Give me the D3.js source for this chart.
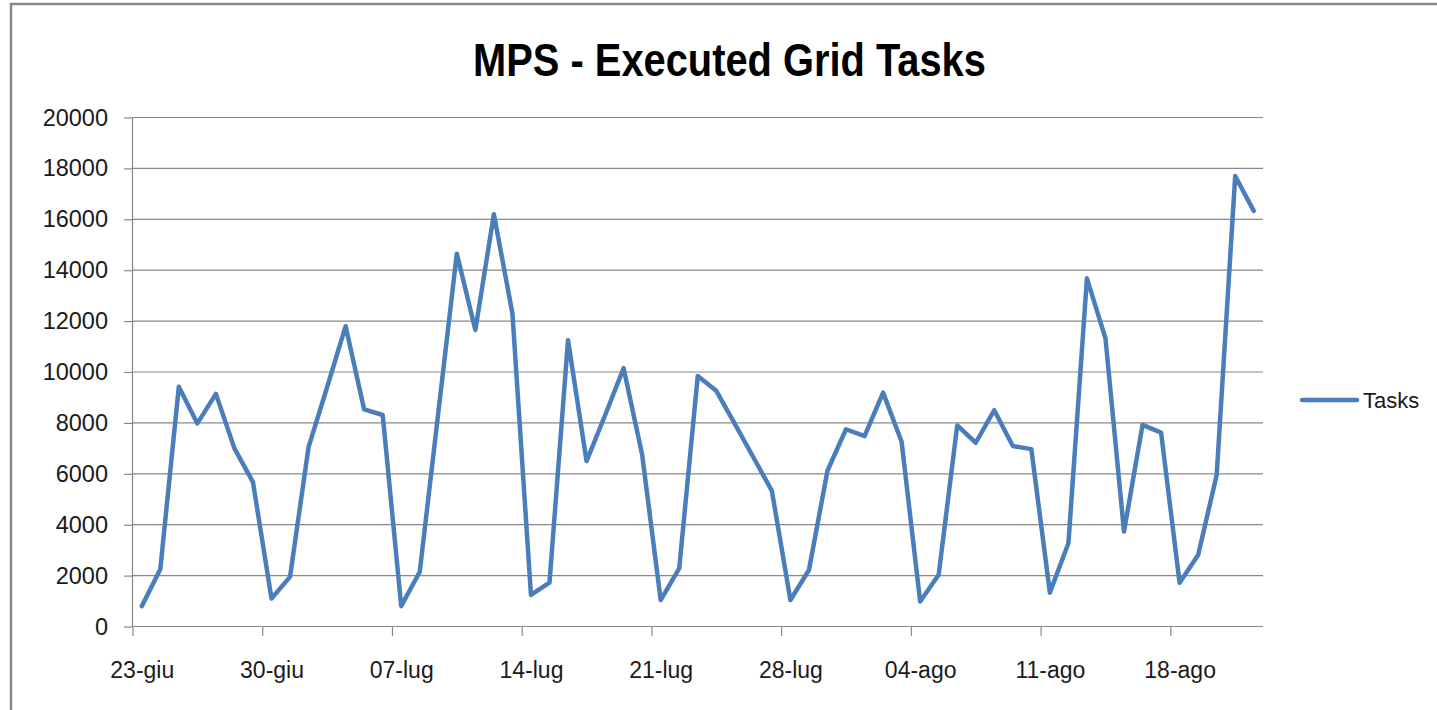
<!DOCTYPE html>
<html>
<head>
<meta charset="utf-8">
<script src="https://cdn.jsdelivr.net/npm/d3@7"></script>
<style>
  body { margin: 0; background: #fff; }
  svg { display: block; font-family: "Liberation Sans", Arial, sans-serif; }
</style>
</head>
<body>
<div id="chart"></div>
<script>
// data, one value per day starting 23-giu
const startDate = "2010-06-23";
const tasks = [
  800, 2250, 9420, 7980, 9140, 7000, 5670, 1100, 1950, 7050,
  9400, 11800, 8530, 8310, 800, 2150, 8400, 14650, 11650, 16200,
  12300, 1240, 1720, 11250, 6500, 8300, 10150, 6750, 1040, 2280,
  9840, 9260, 7960, 6650, 5330, 1040, 2220, 6120, 7750, 7480,
  9190, 7260, 980, 2030, 7900, 7220, 8500, 7090, 6970, 1330,
  3270, 13680, 11320, 3730, 7920, 7620, 1720, 2810, 5950, 17700,
  16330
];
const yTicks = [0, 2000, 4000, 6000, 8000, 10000, 12000, 14000, 16000, 18000, 20000];
const tickStepDays = 7;
const seriesName = "Tasks";
const chartTitle = "MPS - Executed Grid Tasks";

const itLocale = d3.timeFormatLocale({
  dateTime: "%A %e %B %Y, %X",
  date: "%d/%m/%Y",
  time: "%H:%M:%S",
  periods: ["AM", "PM"],
  days: ["domenica", "lunedì", "martedì", "mercoledì", "giovedì", "venerdì", "sabato"],
  shortDays: ["dom", "lun", "mar", "mer", "gio", "ven", "sab"],
  months: ["gennaio", "febbraio", "marzo", "aprile", "maggio", "giugno", "luglio", "agosto", "settembre", "ottobre", "novembre", "dicembre"],
  shortMonths: ["gen", "feb", "mar", "apr", "mag", "giu", "lug", "ago", "set", "ott", "nov", "dic"]
});
const fmtDay = itLocale.utcFormat("%d-%b");

const W = 1437, H = 710;
const plot = { left: 132.5, right: 1263, top: 117.5, bottom: 626.5 };
const grey = "#888";
const blue = "#4A7EBB";

const start = new Date(startDate + "T00:00:00Z");
const data = tasks.map((v, i) => ({ date: d3.utcDay.offset(start, i), value: v }));
const end = d3.utcDay.offset(start, tasks.length);

const x = d3.scaleUtc().domain([start, end]).range([plot.left, plot.right]);
const y = d3.scaleLinear().domain([0, 20000]).range([plot.bottom, plot.top]);
const mid = (d) => x(d3.utcHour.offset(d, 12));
const halfDay = mid(start) - x(start);

const svg = d3.select("#chart").append("svg").attr("width", W).attr("height", H);

// chart frame
svg.append("path")
  .attr("d", `M11,${H + 5} L11,4 L${W + 5},4`)
  .attr("fill", "none")
  .attr("stroke", grey)
  .attr("stroke-width", 2.5);

// title, squeezed a bit to get the narrow look of the original font
const titleText = svg.append("text")
  .attr("text-anchor", "middle")
  .attr("font-weight", "bold")
  .attr("font-size", 46)
  .attr("fill", "#000")
  .text(chartTitle);
const tw = titleText.node().getComputedTextLength();
const sx = 513 / tw;
titleText.attr("transform", `translate(729.5,76) scale(${sx},1)`);

// gridlines
svg.append("g")
  .selectAll("line")
  .data(yTicks.filter((t) => t > 0))
  .join("line")
  .attr("x1", plot.left).attr("x2", plot.right)
  .attr("y1", (d) => y(d)).attr("y2", (d) => y(d))
  .attr("stroke", grey).attr("stroke-width", 1.2);

// y axis
const yAxis = svg.append("g")
  .attr("transform", `translate(${plot.left},0)`)
  .call(d3.axisLeft(y).tickValues(yTicks).tickSize(8.5).tickPadding(16).tickFormat(d3.format("d")));
yAxis.select(".domain").remove();
yAxis.selectAll(".tick line").attr("stroke", grey).attr("stroke-width", 1.2);
yAxis.selectAll(".tick text").attr("font-size", 23.5).attr("fill", "#1a1a1a");
svg.append("line")
  .attr("x1", plot.left).attr("x2", plot.left)
  .attr("y1", plot.top).attr("y2", plot.bottom)
  .attr("stroke", grey).attr("stroke-width", 1.2);

// x axis
const xTickDates = d3.range(0, tasks.length, tickStepDays).map((i) => d3.utcDay.offset(start, i));
const xAxis = svg.append("g")
  .attr("transform", `translate(0,${plot.bottom})`)
  .call(d3.axisBottom(x).tickValues(xTickDates).tickSize(9.5).tickFormat(fmtDay));
xAxis.select(".domain").remove();
xAxis.selectAll(".tick line").attr("stroke", grey).attr("stroke-width", 1.2);
xAxis.selectAll(".tick text")
  .attr("font-size", 23).attr("fill", "#1a1a1a")
  .attr("x", halfDay).attr("y", 51.5).attr("dy", 0);
svg.append("line")
  .attr("x1", plot.left).attr("x2", plot.right)
  .attr("y1", plot.bottom).attr("y2", plot.bottom)
  .attr("stroke", grey).attr("stroke-width", 1.2);
svg.selectAll(".tick text").attr("font-family", "Liberation Sans, Arial, sans-serif");

// series line
const line = d3.line().x((d) => mid(d.date)).y((d) => y(d.value));
svg.append("path")
  .datum(data)
  .attr("d", line)
  .attr("fill", "none")
  .attr("stroke", blue)
  .attr("stroke-width", 4.5)
  .attr("stroke-linejoin", "round")
  .attr("stroke-linecap", "round");

// legend
const legend = svg.append("g").attr("transform", "translate(1302,400)");
legend.append("line")
  .attr("x1", 0).attr("x2", 55)
  .attr("stroke", blue).attr("stroke-width", 4.5).attr("stroke-linecap", "round");
legend.append("text")
  .attr("x", 61).attr("y", 8)
  .attr("font-size", 22).attr("fill", "#1a1a1a")
  .text(seriesName);
</script>
</body>
</html>
